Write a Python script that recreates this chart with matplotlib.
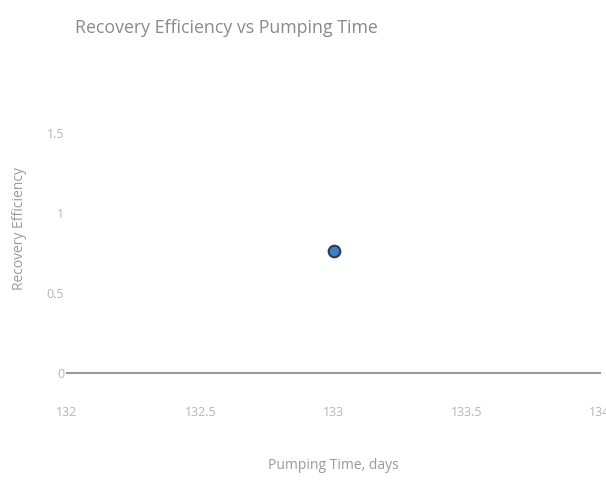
import matplotlib
matplotlib.use("Agg")
import matplotlib.pyplot as plt

plt.rcParams["font.family"] = ["Open Sans", "DejaVu Sans"]

# data
pumping_time = [133.0]
recovery_eff = [0.76]

x_ticks = [132, 132.5, 133, 133.5, 134]
x_tick_labels = ["132", "132.5", "133", "133.5", "134"]
y_ticks = [0, 0.5, 1, 1.5]
y_tick_labels = ["0", "0.5", "1", "1.5"]

fig = plt.figure(figsize=(6.06, 4.83), dpi=100)
ax = fig.add_axes([67 / 606, 110 / 483, 533 / 606, 288 / 483])

ax.scatter(pumping_time, recovery_eff, s=70, color="#3d7fbf",
           edgecolors="#2a3f55", linewidths=1.5, zorder=3)

ax.set_xlim(132, 134)
ax.set_ylim(0, 1.8)
ax.set_xticks(x_ticks)
ax.set_xticklabels(x_tick_labels)
ax.set_yticks(y_ticks)
ax.set_yticklabels(y_tick_labels)
ax.tick_params(axis="both", length=0, labelsize=9, labelcolor="#b5b5b5")
ax.tick_params(axis="x", pad=24)
ax.tick_params(axis="y", pad=2)

for side in ["top", "right", "left"]:
    ax.spines[side].set_visible(False)
ax.spines["bottom"].set_color("#9a9a9a")
ax.spines["bottom"].set_linewidth(1.5)

ax.set_xlabel("Pumping Time, days", fontsize=10, color="#9a9a9a", labelpad=28)
ax.set_ylabel("Recovery Efficiency", fontsize=10, color="#9a9a9a", labelpad=14)
fig.text(75 / 606, 1 - 28 / 483, "Recovery Efficiency vs Pumping Time",
         fontsize=12.8, color="#8a8a8a", va="center", ha="left")

fig.savefig("out.png", dpi=100)
